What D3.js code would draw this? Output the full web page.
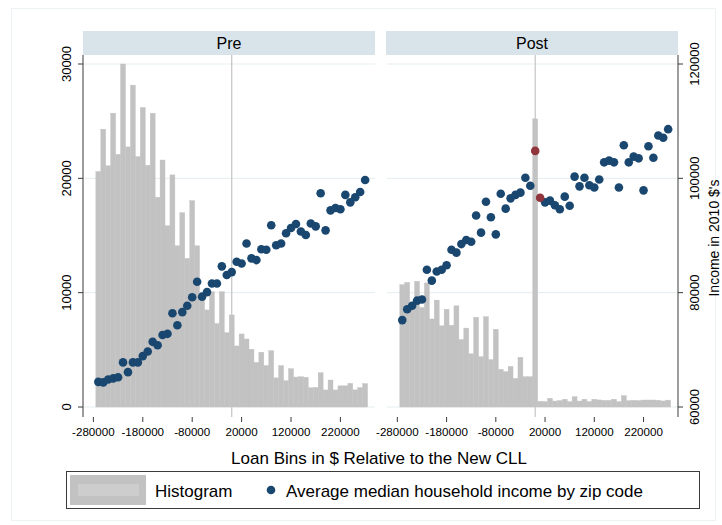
<!DOCTYPE html>
<html>
<head>
<meta charset="utf-8">
<script src="https://cdn.jsdelivr.net/npm/d3@7/dist/d3.min.js"></script>
<style>
html,body{margin:0;padding:0;background:#fff;}
svg text{font-family:"Liberation Sans",Arial,Helvetica,sans-serif;fill:#000;}
</style>
</head>
<body>
<svg id="chart" width="722" height="525"></svg>
<script>
// ---------------- data ----------------
const panels = ["Pre", "Post"];
const bins = [-270000,-260000,-250000,-240000,-230000,-220000,-210000,-200000,-190000,-180000,
  -170000,-160000,-150000,-140000,-130000,-120000,-110000,-100000,-90000,-80000,
  -70000,-60000,-50000,-40000,-30000,-20000,-10000,0,10000,20000,
  30000,40000,50000,60000,70000,80000,90000,100000,110000,120000,
  130000,140000,150000,160000,170000,180000,190000,200000,210000,220000,
  230000,240000,250000,260000,270000];
const preHist = [20600,24300,21100,25700,22100,30000,22750,28150,21900,26200,
  21150,25700,18350,21600,15850,20300,14100,17000,13000,18050,
  14100,9600,8490,10090,7300,10090,6500,8050,5340,6390,
  5950,5050,3900,4790,3630,4930,2550,3620,2300,3350,
  2620,2650,2600,1680,1720,3000,1490,2360,1490,1850,
  1850,2070,1500,1700,2050];
const postHist = [10700,10900,8900,11000,8700,10850,7700,9350,7100,8550,
  7150,8850,5900,6900,4650,7850,4400,7900,4150,6800,
  3300,3100,3550,2500,4350,2650,2650,25200,500,470,
  760,520,560,680,470,900,520,680,470,680,
  620,580,580,680,470,990,560,580,560,610,
  610,610,590,530,600];
const preIncome = [64400,64300,64800,65000,65200,67800,66100,67800,67800,68900,
  69700,71400,70800,72600,72800,76400,74300,76600,77700,79200,
  81900,79300,80100,81600,81600,84600,83100,83600,85400,85100,
  88600,86000,85700,87600,87500,91800,88300,88600,90400,91300,
  92000,90700,90100,92100,91600,97400,90900,94400,94800,94600,
  97100,95800,96700,97600,99700];
const postIncome = [75200,77100,77700,78600,78800,84000,82100,83700,84000,84800,
  87500,87000,88500,89200,88900,93500,90500,95900,93200,90200,
  97300,94700,96500,97100,97500,100100,98700,104800,96600,95800,
  96100,95300,94600,96800,95200,100300,98600,100100,98800,98400,
  99800,102800,103100,102800,98400,105800,102800,103800,103500,97900,
  105600,103600,107500,107100,108600];
const postHighlightBins = [0, 10000];
const xTicks = [-280000,-180000,-80000,20000,120000,220000];
const histTicks = [0,10000,20000,30000];
const incomeTicks = [60000,80000,100000,120000];
const cutoff = [0];
const xTitle = "Loan Bins in $ Relative to the New CLL";
const yRightTitle = "Income in 2010 $'s";
const legendLabels = ["Histogram", "Average median household income by zip code"];

// ---------------- layout ----------------
const svg = d3.select("#chart");
svg.append("rect").attr("width",722).attr("height",525).attr("fill","#fff");
svg.append("rect").attr("x",11.5).attr("y",8.5).attr("width",704).attr("height",512)
  .attr("fill","none").attr("stroke","#edf2f4").attr("stroke-width",1);

const yTop = 55, yBot = 416;
const yH = d3.scaleLinear().domain([0,30000]).range([407,64]);
const yI = d3.scaleLinear().domain([60000,120000]).range([407,64]);
const panelRanges = [[83,375],[387,678]];
const stripRanges = [[83,375],[386,678]];
const histData = [preHist, postHist];
const incData = [preIncome, postIncome];
const barColor = "#c2c2c2";
const dotColor = "#1a476f";
const redColor = "#90353b";
const axisColor = "#3a3a3a";

panels.forEach((name, p) => {
  const x = d3.scaleLinear().domain([-301000,290000]).range(panelRanges[p]);
  const g = svg.append("g");
  // strip
  g.append("rect").attr("x",stripRanges[p][0]).attr("y",31)
    .attr("width",stripRanges[p][1]-stripRanges[p][0]).attr("height",yTop-31)
    .attr("fill","#d9e4ea");
  g.append("text").attr("x",(stripRanges[p][0]+stripRanges[p][1])/2).attr("y",49)
    .attr("text-anchor","middle").attr("font-size",16).text(name);
  // gridlines
  g.selectAll("line.grid").data(histTicks).enter().append("line")
    .attr("x1",panelRanges[p][0]).attr("x2",panelRanges[p][1])
    .attr("y1",d=>yH(d)).attr("y2",d=>yH(d))
    .attr("stroke","#e4edf0").attr("stroke-width",1);
  // bars
  g.selectAll("rect.bar").data(bins.map((b,i)=>({b, v:histData[p][i]}))).enter().append("rect")
    .attr("x",d=>x(d.b-5000)).attr("width",d=>x(d.b+5000)-x(d.b-5000))
    .attr("y",d=>yH(d.v)).attr("height",d=>yH(0)-yH(d.v))
    .attr("fill",barColor).attr("stroke",barColor).attr("stroke-width",0.4);
  // cutoff line
  g.selectAll("line.cut").data(cutoff).enter().append("line")
    .attr("x1",d=>x(d)).attr("x2",d=>x(d)).attr("y1",yTop).attr("y2",yBot+1)
    .attr("stroke","#c4c4c4").attr("stroke-width",1.2);
  // dots
  const pts = bins.map((b,i)=>({b, v:incData[p][i], red: p===1 && postHighlightBins.includes(b)}));
  g.selectAll("circle.dot").data(pts.filter(d=>!d.red)).enter().append("circle")
    .attr("cx",d=>x(d.b)).attr("cy",d=>yI(d.v)).attr("r",4.3).attr("fill",dotColor);
  g.selectAll("circle.red").data(pts.filter(d=>d.red)).enter().append("circle")
    .attr("cx",d=>x(d.b)).attr("cy",d=>yI(d.v)).attr("r",4.3).attr("fill",redColor);
  // x axis ticks
  const xa = g.append("g");
  xa.selectAll("line").data(xTicks).enter().append("line")
    .attr("x1",d=>x(d)).attr("x2",d=>x(d)).attr("y1",yBot+1).attr("y2",yBot+6)
    .attr("stroke",axisColor).attr("stroke-width",1);
  xa.selectAll("text").data(xTicks).enter().append("text")
    .attr("x",d=>x(d)).attr("y",yBot+20).attr("text-anchor","middle")
    .attr("font-size",11.6).text(d=>d);
});

// left y axis
const la = svg.append("g");
la.append("line").attr("x1",83).attr("x2",83).attr("y1",yTop).attr("y2",yBot+1)
  .attr("stroke",axisColor).attr("stroke-width",1);
la.selectAll("line.t").data(histTicks).enter().append("line")
  .attr("x1",78).attr("x2",83).attr("y1",d=>yH(d)).attr("y2",d=>yH(d))
  .attr("stroke",axisColor);
la.selectAll("text").data(histTicks).enter().append("text")
  .attr("transform",d=>`translate(71,${yH(d)}) rotate(-90)`)
  .attr("text-anchor","middle").attr("font-size",13).text(d=>d);

// right y axis
const ra = svg.append("g");
ra.append("line").attr("x1",678).attr("x2",678).attr("y1",yTop).attr("y2",yBot+1)
  .attr("stroke",axisColor).attr("stroke-width",1);
ra.selectAll("line.t").data(incomeTicks).enter().append("line")
  .attr("x1",678).attr("x2",683).attr("y1",d=>yI(d)).attr("y2",d=>yI(d))
  .attr("stroke",axisColor);
ra.selectAll("text").data(incomeTicks).enter().append("text")
  .attr("transform",d=>`translate(699,${yI(d)}) rotate(-90)`)
  .attr("text-anchor","middle").attr("font-size",13).text(d=>d);
svg.append("text").attr("transform","translate(719,238) rotate(-90)")
  .attr("text-anchor","middle").attr("font-size",14).text(yRightTitle);

// x title
svg.append("text").attr("x",379).attr("y",464).attr("text-anchor","middle")
  .attr("font-size",17).text(xTitle);

// legend
const lg = svg.append("g");
lg.append("rect").attr("x",66.5).attr("y",471.5).attr("width",633).attr("height",37)
  .attr("fill","#fff").attr("stroke",axisColor).attr("stroke-width",1);
lg.append("rect").attr("x",70).attr("y",475).attr("width",76).attr("height",30).attr("fill",barColor);
lg.append("rect").attr("x",78).attr("y",484).attr("width",61).attr("height",12).attr("fill","#cdcdcd");
lg.append("text").attr("x",155).attr("y",497).attr("font-size",17).text(legendLabels[0]);
lg.append("circle").attr("cx",271).attr("cy",490).attr("r",4.3).attr("fill",dotColor);
lg.append("text").attr("x",286).attr("y",497).attr("font-size",17).text(legendLabels[1]);
</script>
</body>
</html>
